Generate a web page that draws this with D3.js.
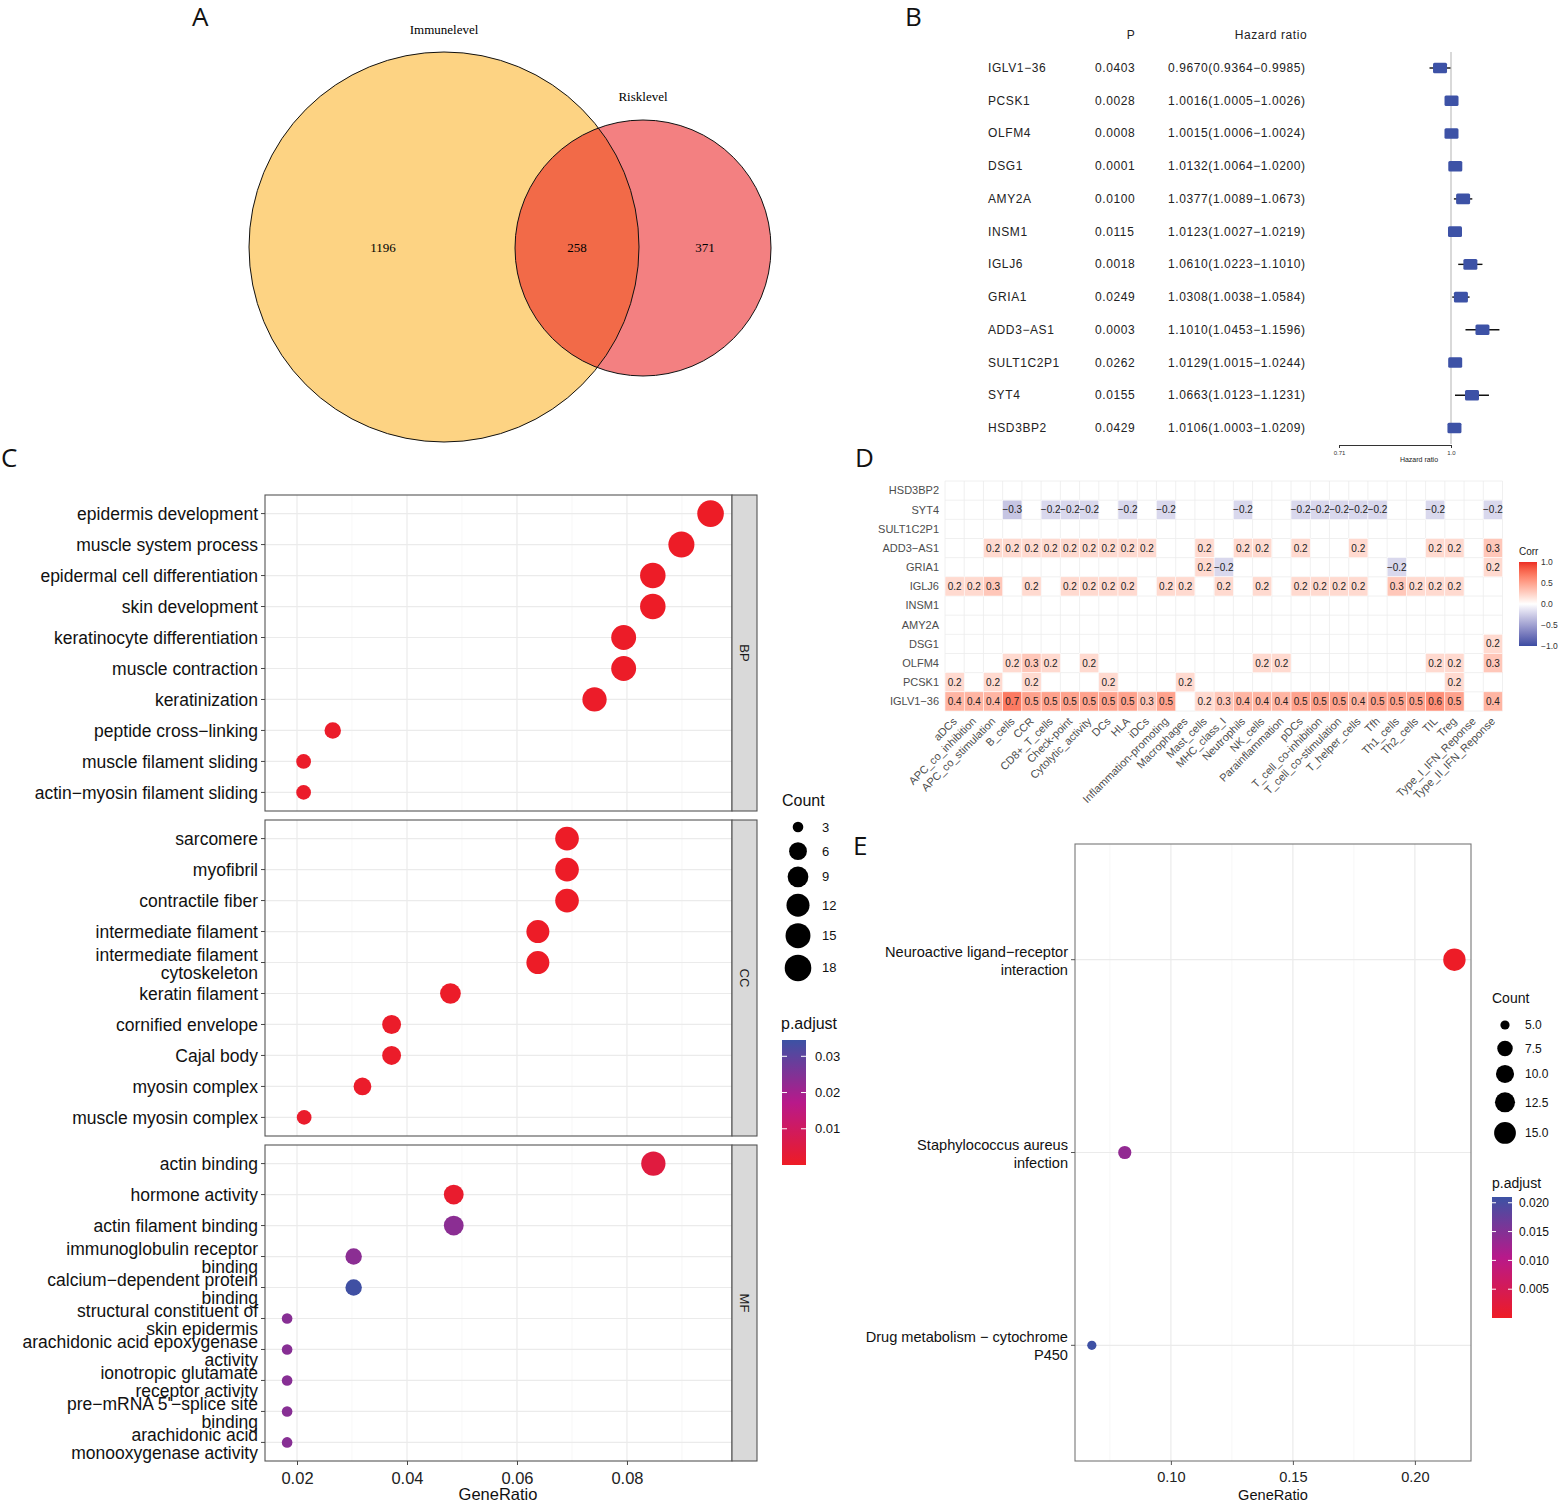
<!DOCTYPE html>
<html lang="en">
<head>
<meta charset="UTF-8">
<title>Immune / risk gene figure</title>
<script src="https://d3js.org/d3.v7.min.js"></script>
<style>
  body { margin: 0; background: #fff; }
  svg text { font-family: "Liberation Sans", Arial, Helvetica, sans-serif; }
</style>
</head>
<body>
<svg id="main" width="1559" height="1501"></svg>
<script>
// ---------------- data ----------------
// A: venn
const vennSets = ['Immunelevel', 'Risklevel'];
const vennCounts = [1196, 258, 371];   // immune only, both, risk only

// B: cox forest
const coxGenes = ['IGLV1\u221236', 'PCSK1', 'OLFM4', 'DSG1', 'AMY2A', 'INSM1', 'IGLJ6', 'GRIA1',
                  'ADD3\u2212AS1', 'SULT1C2P1', 'SYT4', 'HSD3BP2'];
const coxP    = ['0.0403', '0.0028', '0.0008', '0.0001', '0.0100', '0.0115', '0.0018', '0.0249',
                 '0.0003', '0.0262', '0.0155', '0.0429'];
const coxHR   = [0.9670, 1.0016, 1.0015, 1.0132, 1.0377, 1.0123, 1.0610, 1.0308, 1.1010, 1.0129, 1.0663, 1.0106];
const coxLow  = [0.9364, 1.0005, 1.0006, 1.0064, 1.0089, 1.0027, 1.0223, 1.0038, 1.0453, 1.0015, 1.0123, 1.0003];
const coxHigh = [0.9985, 1.0026, 1.0024, 1.0200, 1.0673, 1.0219, 1.1010, 1.0584, 1.1596, 1.0244, 1.1231, 1.0209];

// C: GO enrichment
const bpTerms = ['epidermis development', 'muscle system process', 'epidermal cell differentiation',
  'skin development', 'keratinocyte differentiation', 'muscle contraction', 'keratinization',
  'peptide cross\u2212linking', 'muscle filament sliding', 'actin\u2212myosin filament sliding'];
const bpRatio = [0.0952, 0.0899, 0.0847, 0.0847, 0.0794, 0.0794, 0.0741, 0.0265, 0.0212, 0.0212];
const bpCount = [18, 17, 16, 16, 15, 15, 14, 5, 4, 4];
const bpPadj  = [0.0002, 0.0003, 0.0004, 0.0004, 0.0005, 0.0005, 0.0006, 0.0008, 0.0009, 0.0009];

const ccTerms = ['sarcomere', 'myofibril', 'contractile fiber', 'intermediate filament',
  'intermediate filament\ncytoskeleton', 'keratin filament', 'cornified envelope', 'Cajal body',
  'myosin complex', 'muscle myosin complex'];
const ccRatio = [0.0691, 0.0691, 0.0691, 0.0638, 0.0638, 0.0479, 0.0372, 0.0372, 0.0319, 0.0213];
const ccCount = [13, 13, 13, 12, 12, 9, 7, 7, 6, 4];
const ccPadj  = [0.0003, 0.0003, 0.0003, 0.0004, 0.0004, 0.0006, 0.0008, 0.0008, 0.0010, 0.0012];

const mfTerms = ['actin binding', 'hormone activity', 'actin filament binding',
  'immunoglobulin receptor\nbinding', 'calcium\u2212dependent protein\nbinding',
  'structural constituent of\nskin epidermis', 'arachidonic acid epoxygenase\nactivity',
  'ionotropic glutamate\nreceptor activity', 'pre\u2212mRNA 5\'\u2212splice site\nbinding',
  'arachidonic acid\nmonooxygenase activity'];
const mfRatio = [0.0848, 0.0485, 0.0485, 0.0303, 0.0303, 0.0182, 0.0182, 0.0182, 0.0182, 0.0182];
const mfCount = [14, 8, 8, 5, 5, 3, 3, 3, 3, 3];
const mfPadj  = [0.0045, 0.0015, 0.0235, 0.0235, 0.0340, 0.0240, 0.0240, 0.0240, 0.0240, 0.0240];

// D: correlation heatmap (0 = not shown)
const immuneGenes = ['HSD3BP2', 'SYT4', 'SULT1C2P1', 'ADD3\u2212AS1', 'GRIA1', 'IGLJ6', 'INSM1',
  'AMY2A', 'DSG1', 'OLFM4', 'PCSK1', 'IGLV1\u221236'];
const immuneSets = ['aDCs', 'APC_co_inhibition', 'APC_co_stimulation', 'B_cells', 'CCR', 'CD8+_T_cells',
  'Check-point', 'Cytolytic_activity', 'DCs', 'HLA', 'iDCs', 'Inflammation-promoting', 'Macrophages',
  'Mast_cells', 'MHC_class_I', 'Neutrophils', 'NK_cells', 'Parainflammation', 'pDCs',
  'T_cell_co-inhibition', 'T_cell_co-stimulation', 'T_helper_cells', 'Tfh', 'Th1_cells', 'Th2_cells',
  'TIL', 'Treg', 'Type_I_IFN_Reponse', 'Type_II_IFN_Reponse'];
const corrHSD3BP2 = [0,0,0,0,0,0,0,0,0,0,0,0,0,0,0,0,0,0,0,0,0,0,0,0,0,0,0,0,0];
const corrSYT4    = [0,0,0,-.3,0,-.2,-.2,-.2,0,-.2,0,-.2,0,0,0,-.2,0,0,-.2,-.2,-.2,-.2,-.2,0,0,-.2,0,0,-.2];
const corrSULT    = [0,0,0,0,0,0,0,0,0,0,0,0,0,0,0,0,0,0,0,0,0,0,0,0,0,0,0,0,0];
const corrADD3    = [0,0,.2,.2,.2,.2,.2,.2,.2,.2,.2,0,0,.2,0,.2,.2,0,.2,0,0,.2,0,0,0,.2,.2,0,.3];
const corrGRIA1   = [0,0,0,0,0,0,0,0,0,0,0,0,0,.2,-.2,0,0,0,0,0,0,0,0,-.2,0,0,0,0,.2];
const corrIGLJ6   = [.2,.2,.3,0,.2,0,.2,.2,.2,.2,0,.2,.2,0,.2,0,.2,0,.2,.2,.2,.2,0,.3,.2,.2,.2,0,0];
const corrINSM1   = [0,0,0,0,0,0,0,0,0,0,0,0,0,0,0,0,0,0,0,0,0,0,0,0,0,0,0,0,0];
const corrAMY2A   = [0,0,0,0,0,0,0,0,0,0,0,0,0,0,0,0,0,0,0,0,0,0,0,0,0,0,0,0,0];
const corrDSG1    = [0,0,0,0,0,0,0,0,0,0,0,0,0,0,0,0,0,0,0,0,0,0,0,0,0,0,0,0,.2];
const corrOLFM4   = [0,0,0,.2,.3,.2,0,.2,0,0,0,0,0,0,0,0,.2,.2,0,0,0,0,0,0,0,.2,.2,0,.3];
const corrPCSK1   = [.2,0,.2,0,.2,0,0,0,.2,0,0,0,.2,0,0,0,0,0,0,0,0,0,0,0,0,0,.2,0,0];
const corrIGLV1   = [.4,.4,.4,.7,.5,.5,.5,.5,.5,.5,.3,.5,0,.2,.3,.4,.4,.4,.5,.5,.5,.4,.5,.5,.5,.6,.5,0,.4];
const corrRows = [corrHSD3BP2, corrSYT4, corrSULT, corrADD3, corrGRIA1, corrIGLJ6, corrINSM1,
  corrAMY2A, corrDSG1, corrOLFM4, corrPCSK1, corrIGLV1];

// E: KEGG
const keggTerms = ['Neuroactive ligand\u2212receptor\ninteraction', 'Staphylococcus aureus\ninfection',
  'Drug metabolism \u2212 cytochrome\nP450'];
const keggRatio = [0.2162, 0.0811, 0.0676];
const keggCount = [16, 6, 5];
const keggPadj  = [0.0002, 0.0137, 0.0208];

// ---------------- drawing ----------------
const svg = d3.select('svg#main');
const defs = svg.append('defs');

function letter(t, x, y) {
  svg.append('text').attr('x', x).attr('y', y).text(t)
    .style('font-family', '"Open Sans", sans-serif').style('font-size', '26px').attr('fill', '#111');
}
letter('A', 192, 26); letter('B', 905, 26); letter('C', 1, 467); letter('D', 855, 467); letter('E', 853, 855);

// ----- A -----
const big = {x: 444, y: 247, r: 195}, small = {x: 643, y: 248, r: 128};
defs.append('clipPath').attr('id', 'clipSmall')
  .append('circle').attr('cx', small.x).attr('cy', small.y).attr('r', small.r);
svg.append('circle').attr('cx', big.x).attr('cy', big.y).attr('r', big.r).attr('fill', '#fdd383');
svg.append('circle').attr('cx', small.x).attr('cy', small.y).attr('r', small.r).attr('fill', '#f38081');
svg.append('circle').attr('cx', big.x).attr('cy', big.y).attr('r', big.r).attr('fill', '#f26a48')
  .attr('clip-path', 'url(#clipSmall)');
[big, small].forEach(c => svg.append('circle').attr('cx', c.x).attr('cy', c.y).attr('r', c.r)
  .attr('fill', 'none').attr('stroke', '#111').attr('stroke-width', 1));
const serif = '"Liberation Serif", "Times New Roman", serif';
svg.append('text').attr('x', 444).attr('y', 34).attr('text-anchor', 'middle').text(vennSets[0])
  .style('font-family', serif).style('font-size', '13px');
svg.append('text').attr('x', 643).attr('y', 101).attr('text-anchor', 'middle').text(vennSets[1])
  .style('font-family', serif).style('font-size', '13px');
[[383, vennCounts[0]], [577, vennCounts[1]], [705, vennCounts[2]]].forEach(([x, v]) =>
  svg.append('text').attr('x', x).attr('y', 252).attr('text-anchor', 'middle').text(v)
    .style('font-family', serif).style('font-size', '13px'));

// ----- B -----
const gB = svg.append('g');
const rowB = d3.scalePoint().domain(coxGenes).range([68, 428]);
const hrX = d3.scaleLog().domain([0.71, 1.0]).range([1339, 1451]);
const fB = '12px';
const bText = (x, y, t) => gB.append('text').attr('x', x).attr('y', y).text(t)
  .style('font-size', fB).style('letter-spacing', '0.6px').attr('fill', '#222');
bText(1131, 39, 'P').attr('text-anchor', 'middle');
bText(1271, 39, 'Hazard ratio').attr('text-anchor', 'middle');
coxGenes.forEach((g, i) => {
  const y = rowB(g) + 4;
  bText(988, y, g);
  bText(1095, y, coxP[i]);
  bText(1168, y, coxHR[i].toFixed(4) + '(' + coxLow[i].toFixed(4) + '\u2212' + coxHigh[i].toFixed(4) + ')');
});
gB.append('line').attr('x1', hrX(1)).attr('x2', hrX(1)).attr('y1', 52).attr('y2', 444)
  .attr('stroke', '#d9d9d9').attr('stroke-width', 2);
gB.selectAll('.ci').data(coxGenes).enter().append('line')
  .attr('x1', (d, i) => hrX(coxLow[i])).attr('x2', (d, i) => hrX(coxHigh[i]))
  .attr('y1', d => rowB(d)).attr('y2', d => rowB(d)).attr('stroke', '#111').attr('stroke-width', 1.4);
gB.selectAll('.box').data(coxGenes).enter().append('rect')
  .attr('x', (d, i) => hrX(coxHR[i]) - 7).attr('y', d => rowB(d) - 5.3)
  .attr('width', 14).attr('height', 10.6).attr('rx', 1.5).attr('fill', '#3d52a6');
const axB = gB.append('g').attr('transform', 'translate(0,445)')
  .call(d3.axisBottom(hrX).tickValues([0.71, 1.0]).tickFormat(d => d === 1 ? '1.0' : '0.71').tickSize(3));
axB.selectAll('text').style('font-size', '6px').attr('fill', '#333');
axB.selectAll('line,path').attr('stroke', '#333');
gB.append('text').attr('x', 1419).attr('y', 462).attr('text-anchor', 'middle').text('Hazard ratio')
  .style('font-size', '7px').attr('fill', '#222');

// ----- shared dot-plot helpers -----
const padStops = ['#ee1c25', '#b8198a', '#3c52a4'];
function padColor(maxP) {
  return d3.scaleLinear().domain([0, maxP / 2, maxP]).range(padStops).interpolate(d3.interpolateRgb);
}
function labelLines(sel, x, y, txt, lh) {
  const lines = txt.split('\n');
  const t = sel.append('text').attr('x', x).attr('text-anchor', 'end');
  lines.forEach((ln, k) => t.append('tspan').attr('x', x)
    .attr('y', y + (k - (lines.length - 1) / 2) * lh + (lines.length > 1 ? 1 : 0)).attr('dy', '0.35em').text(ln));
  return t;
}
function gradientDef(id, stops) {
  const lg = defs.append('linearGradient').attr('id', id).attr('x1', 0).attr('y1', 1).attr('x2', 0).attr('y2', 0);
  stops.forEach((c, k) => lg.append('stop').attr('offset', k / (stops.length - 1)).attr('stop-color', c));
}

// ----- C -----
const gC = svg.append('g');
const cX = d3.scaleLinear().domain([0.01418, 0.0991]).range([265, 732]);
const cCol = padColor(0.0345);
const cR = v => 5.3 + 8 * Math.sqrt((v - 3) / 15);
const facets = [
  {name: 'BP', terms: bpTerms, ratio: bpRatio, count: bpCount, padj: bpPadj, top: 495},
  {name: 'CC', terms: ccTerms, ratio: ccRatio, count: ccCount, padj: ccPadj, top: 820},
  {name: 'MF', terms: mfTerms, ratio: mfRatio, count: mfCount, padj: mfPadj, top: 1145}
];
const panelH = 316;
facets.forEach(f => {
  const y = d3.scalePoint().domain(f.terms).range([f.top, f.top + panelH]).padding(0.6);
  const g = gC.append('g');
  g.append('rect').attr('x', 265).attr('y', f.top).attr('width', 467).attr('height', panelH).attr('fill', '#fff');
  [0.03, 0.05, 0.07, 0.09].forEach(v => g.append('line').attr('x1', cX(v)).attr('x2', cX(v))
    .attr('y1', f.top).attr('y2', f.top + panelH).attr('stroke', '#f3f3f3').attr('stroke-width', 0.7));
  [0.02, 0.04, 0.06, 0.08].forEach(v => g.append('line').attr('x1', cX(v)).attr('x2', cX(v))
    .attr('y1', f.top).attr('y2', f.top + panelH).attr('stroke', '#ebebeb').attr('stroke-width', 1.2));
  f.terms.forEach(t => g.append('line').attr('x1', 265).attr('x2', 732).attr('y1', y(t)).attr('y2', y(t))
    .attr('stroke', '#ebebeb').attr('stroke-width', 1.2));
  g.selectAll('circle').data(f.terms).enter().append('circle')
    .attr('cx', (d, i) => cX(f.ratio[i])).attr('cy', d => y(d))
    .attr('r', (d, i) => cR(f.count[i])).attr('fill', (d, i) => cCol(f.padj[i]));
  g.append('rect').attr('x', 265).attr('y', f.top).attr('width', 467).attr('height', panelH)
    .attr('fill', 'none').attr('stroke', '#555').attr('stroke-width', 1.1);
  g.append('rect').attr('x', 732).attr('y', f.top).attr('width', 25).attr('height', panelH)
    .attr('fill', '#d9d9d9').attr('stroke', '#555').attr('stroke-width', 1.1);
  g.append('text').attr('transform', `translate(740,${f.top + panelH / 2}) rotate(90)`)
    .attr('text-anchor', 'middle').text(f.name).style('font-size', '13px').attr('fill', '#1a1a1a');
  f.terms.forEach(t => {
    g.append('line').attr('x1', 261).attr('x2', 265).attr('y1', y(t)).attr('y2', y(t)).attr('stroke', '#444');
    labelLines(g, 258, y(t), t, 18).style('font-size', '17.5px').attr('fill', '#111');
  });
});
const axC = gC.append('g').attr('transform', 'translate(0,1461)')
  .call(d3.axisBottom(cX).tickValues([0.02, 0.04, 0.06, 0.08]).tickFormat(d3.format('.2f')).tickSize(4).tickSizeOuter(0));
axC.select('.domain').remove();
axC.selectAll('line').attr('stroke', '#444');
axC.selectAll('text').style('font-size', '16.5px').attr('fill', '#222').attr('dy', '0.95em');
gC.append('text').attr('x', 498).attr('y', 1500).attr('text-anchor', 'middle').text('GeneRatio')
  .style('font-size', '16.5px').attr('fill', '#111');

// C legend
gC.append('text').attr('x', 782).attr('y', 806).text('Count').style('font-size', '16px').attr('fill', '#111');
const cKeys = [3, 6, 9, 12, 15, 18];
let yk = 827 - 12;
cKeys.forEach(k => {
  const h = Math.max(24, 2 * cR(k) + 6.5);
  const yc = yk + h / 2;
  gC.append('circle').attr('cx', 798).attr('cy', yc).attr('r', cR(k)).attr('fill', '#000');
  gC.append('text').attr('x', 822).attr('y', yc).attr('dy', '0.35em').text(k).style('font-size', '13px').attr('fill', '#111');
  yk += h;
});
gC.append('text').attr('x', 781).attr('y', 1029).text('p.adjust').style('font-size', '16px').attr('fill', '#111');
gradientDef('gradC', d3.range(0, 1.0001, 0.1).map(t => cCol(t * 0.0345)));
const cLegY = d3.scaleLinear().domain([0, 0.0345]).range([1165, 1040]);
gC.append('rect').attr('x', 782).attr('y', 1040).attr('width', 24).attr('height', 125).attr('fill', 'url(#gradC)');
[0.01, 0.02, 0.03].forEach(v => {
  gC.append('line').attr('x1', 782).attr('x2', 787).attr('y1', cLegY(v)).attr('y2', cLegY(v)).attr('stroke', '#fff');
  gC.append('line').attr('x1', 801).attr('x2', 806).attr('y1', cLegY(v)).attr('y2', cLegY(v)).attr('stroke', '#fff');
  gC.append('text').attr('x', 815).attr('y', cLegY(v)).attr('dy', '0.35em').text(v.toFixed(2))
    .style('font-size', '13px').attr('fill', '#111');
});

// ----- D -----
const gD = svg.append('g');
const dX = d3.scaleBand().domain(immuneSets).range([945, 1502.5]);
const dY = d3.scaleBand().domain(immuneGenes).range([481, 711]);
const corrCol = d3.scaleLinear().domain([-1, 0, 1]).range(['#3b4ca2', '#ffffff', '#ec2d25']).interpolate(d3.interpolateLab);
immuneSets.forEach((s, j) => gD.append('line').attr('x1', dX(s)).attr('x2', dX(s)).attr('y1', 481).attr('y2', 711)
  .attr('stroke', '#ececec').attr('stroke-width', 0.8));
gD.append('line').attr('x1', 1502.5).attr('x2', 1502.5).attr('y1', 481).attr('y2', 711).attr('stroke', '#ececec').attr('stroke-width', 0.8);
immuneGenes.forEach(g => gD.append('line').attr('x1', 945).attr('x2', 1502.5).attr('y1', dY(g)).attr('y2', dY(g))
  .attr('stroke', '#ececec').attr('stroke-width', 0.8));
gD.append('line').attr('x1', 945).attr('x2', 1502.5).attr('y1', 711).attr('y2', 711).attr('stroke', '#ececec').attr('stroke-width', 0.8);
const cells = [];
corrRows.forEach((row, i) => row.forEach((v, j) => { if (v !== 0) cells.push({g: immuneGenes[i], s: immuneSets[j], v}); }));
gD.selectAll('.tile').data(cells).enter().append('rect')
  .attr('x', d => dX(d.s)).attr('y', d => dY(d.g)).attr('width', dX.bandwidth()).attr('height', dY.bandwidth())
  .attr('fill', d => corrCol(d.v)).attr('stroke', '#fff').attr('stroke-width', 0.5);
gD.selectAll('.val').data(cells).enter().append('text')
  .attr('x', d => dX(d.s) + dX.bandwidth() / 2).attr('y', d => dY(d.g) + dY.bandwidth() / 2).attr('dy', '0.35em')
  .attr('text-anchor', 'middle').text(d => d3.format('.1f')(d.v)).style('font-size', '10px').attr('fill', '#222');
immuneGenes.forEach(g => gD.append('text').attr('x', 939).attr('y', dY(g) + dY.bandwidth() / 2).attr('dy', '0.35em')
  .attr('text-anchor', 'end').text(g).style('font-size', '11px').attr('fill', '#4d4d4d'));
immuneSets.forEach(s => gD.append('text')
  .attr('transform', `translate(${dX(s) + dX.bandwidth() / 2 + 3},${722}) rotate(-45)`)
  .attr('text-anchor', 'end').text(s).style('font-size', '11px').attr('fill', '#4d4d4d'));
gD.append('text').attr('x', 1519).attr('y', 555).text('Corr').style('font-size', '10px').attr('fill', '#222');
gradientDef('gradD', d3.range(-1, 1.0001, 0.1).map(t => corrCol(t)));
const dLegY = d3.scaleLinear().domain([-1, 1]).range([646, 562]);
gD.append('rect').attr('x', 1519).attr('y', 562).attr('width', 18).attr('height', 84).attr('fill', 'url(#gradD)');
[-1, -0.5, 0, 0.5, 1].forEach(v => gD.append('text').attr('x', 1541).attr('y', dLegY(v)).attr('dy', '0.35em')
  .text(d3.format('.1f')(v)).style('font-size', '8.5px').attr('fill', '#333'));

// ----- E -----
const gE = svg.append('g');
const eX = d3.scaleLinear().domain([0.0607, 0.223]).range([1075, 1471]);
const eY = d3.scalePoint().domain(keggTerms).range([844, 1461]).padding(0.6);
const eCol = padColor(0.021);
const eR = v => 4.6 + 6.6 * Math.sqrt((v - 5) / 11);
gE.append('rect').attr('x', 1075).attr('y', 844).attr('width', 396).attr('height', 617).attr('fill', '#fff');
[0.075, 0.125, 0.175].forEach(v => gE.append('line').attr('x1', eX(v)).attr('x2', eX(v)).attr('y1', 844).attr('y2', 1461)
  .attr('stroke', '#f3f3f3').attr('stroke-width', 0.7));
[0.10, 0.15, 0.20].forEach(v => gE.append('line').attr('x1', eX(v)).attr('x2', eX(v)).attr('y1', 844).attr('y2', 1461)
  .attr('stroke', '#ebebeb').attr('stroke-width', 1.2));
keggTerms.forEach(t => gE.append('line').attr('x1', 1075).attr('x2', 1471).attr('y1', eY(t)).attr('y2', eY(t))
  .attr('stroke', '#ebebeb').attr('stroke-width', 1.2));
gE.selectAll('circle').data(keggTerms).enter().append('circle')
  .attr('cx', (d, i) => eX(keggRatio[i])).attr('cy', d => eY(d))
  .attr('r', (d, i) => eR(keggCount[i])).attr('fill', (d, i) => eCol(keggPadj[i]));
gE.append('rect').attr('x', 1075).attr('y', 844).attr('width', 396).attr('height', 617)
  .attr('fill', 'none').attr('stroke', '#777').attr('stroke-width', 1.1);
keggTerms.forEach(t => {
  gE.append('line').attr('x1', 1071).attr('x2', 1075).attr('y1', eY(t)).attr('y2', eY(t)).attr('stroke', '#555');
  labelLines(gE, 1068, eY(t), t, 18).style('font-size', '14.6px').attr('fill', '#111');
});
const axE = gE.append('g').attr('transform', 'translate(0,1461)')
  .call(d3.axisBottom(eX).tickValues([0.10, 0.15, 0.20]).tickFormat(d3.format('.2f')).tickSize(4).tickSizeOuter(0));
axE.select('.domain').remove();
axE.selectAll('line').attr('stroke', '#555');
axE.selectAll('text').style('font-size', '14.6px').attr('fill', '#222').attr('dy', '0.95em');
gE.append('text').attr('x', 1273).attr('y', 1500).attr('text-anchor', 'middle').text('GeneRatio')
  .style('font-size', '14.6px').attr('fill', '#111');

// E legend
gE.append('text').attr('x', 1492).attr('y', 1003).text('Count').style('font-size', '14px').attr('fill', '#111');
const eKeys = [5, 7.5, 10, 12.5, 15];
let ye = 1025 - 11.5;
eKeys.forEach(k => {
  const h = Math.max(23, 2.5 * eR(k) + 4.5);
  const yc = ye + h / 2;
  gE.append('circle').attr('cx', 1505).attr('cy', yc).attr('r', eR(k)).attr('fill', '#000');
  gE.append('text').attr('x', 1525).attr('y', yc).attr('dy', '0.35em').text(k.toFixed(1)).style('font-size', '12px').attr('fill', '#111');
  ye += h;
});
gE.append('text').attr('x', 1492).attr('y', 1188).text('p.adjust').style('font-size', '14px').attr('fill', '#111');
gradientDef('gradE', d3.range(0, 1.0001, 0.1).map(t => eCol(t * 0.021)));
const eLegY = d3.scaleLinear().domain([0, 0.021]).range([1318, 1197]);
gE.append('rect').attr('x', 1492).attr('y', 1197).attr('width', 20).attr('height', 121).attr('fill', 'url(#gradE)');
[0.005, 0.010, 0.015, 0.020].forEach(v => {
  gE.append('line').attr('x1', 1492).attr('x2', 1496).attr('y1', eLegY(v)).attr('y2', eLegY(v)).attr('stroke', '#fff');
  gE.append('line').attr('x1', 1508).attr('x2', 1512).attr('y1', eLegY(v)).attr('y2', eLegY(v)).attr('stroke', '#fff');
  gE.append('text').attr('x', 1519).attr('y', eLegY(v)).attr('dy', '0.35em').text(v.toFixed(3))
    .style('font-size', '12px').attr('fill', '#111');
});
</script>
</body>
</html>
